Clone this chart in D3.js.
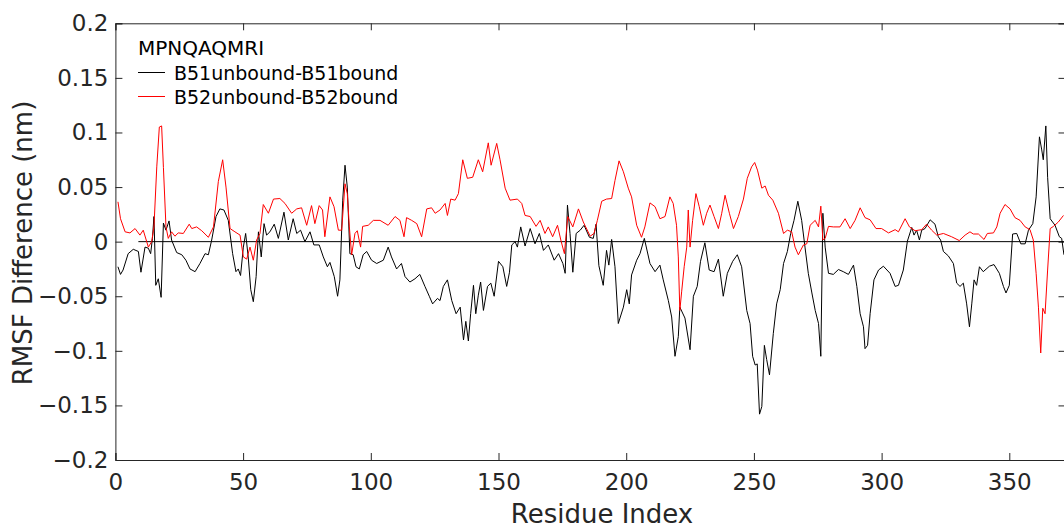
<!DOCTYPE html>
<html>
<head>
<meta charset="utf-8">
<script src="https://cdn.jsdelivr.net/npm/d3@7"></script>
<style>
  body { margin: 0; background: #fff; }
  svg { display: block; font-family: 'DejaVu Sans', sans-serif; }
</style>
</head>
<body>
<div id="chart"></div>
<script>
/// data: [residue, RMSF difference (nm)]
const b51 = [[1,-0.023],[2,-0.030],[3,-0.026],[5,-0.011],[7,-0.007],[9,-0.009],[10,-0.028],[11.6,-0.005],[12.9,-0.006],[13.8,-0.011],[14.5,0.003],[15.1,0.023],[15.8,-0.040],[16.8,-0.034],[17.9,-0.051],[18.8,0.017],[19.8,0.0105],[21,0.019],[22,0.0015],[24,-0.010],[26,-0.012],[27.6,-0.017],[29.2,-0.025],[31.2,-0.0275],[33.1,-0.020],[35.1,-0.011],[36.4,-0.012],[37.7,0.0015],[39.4,0.023],[40.9,0.030],[42.5,0.029],[44.2,0.0195],[45.9,-0.011],[47.2,-0.0275],[48.1,-0.025],[49,-0.031],[50.1,-0.005],[51,0.0075],[52,-0.014],[53,-0.044],[54,-0.055],[55.1,-0.032],[56,0.009],[57.1,-0.014],[58.2,0.0165],[59.2,0.006],[60.5,0.009],[62.2,0.016],[63.8,0.003],[66,0.027],[67.7,0.0015],[69.6,0.021],[71,0.0075],[72.5,0.0105],[74.2,0],[76.2,0.009],[77.7,-0.003],[79.8,-0.003],[81.4,-0.014],[83,-0.023],[84,-0.019],[85.7,-0.032],[87,-0.050],[87.9,-0.035],[89,0.038],[89.9,0.070],[90.8,0.050],[91.8,-0.011],[93.1,-0.012],[94.2,-0.023],[95.5,-0.025],[97,-0.012],[98.4,-0.009],[100.3,-0.017],[102.3,-0.020],[104.9,-0.017],[106.8,-0.005],[108.1,-0.014],[110.1,-0.025],[112,-0.020],[113.4,-0.032],[115.3,-0.037],[117.3,-0.034],[119.2,-0.030],[121.2,-0.041],[122.9,-0.050],[124.2,-0.057],[126.1,-0.052],[127.1,-0.054],[128.4,-0.041],[130,-0.035],[131.7,-0.054],[133.4,-0.066],[135,-0.060],[136.3,-0.090],[137.2,-0.073],[138.2,-0.091],[139.1,-0.066],[140.2,-0.040],[141.1,-0.066],[142.1,-0.049],[143,-0.037],[144.1,-0.063],[145.7,-0.041],[147,-0.038],[148.3,-0.050],[150,-0.018],[151.7,-0.023],[153.2,-0.041],[154.3,-0.028],[155.2,-0.003],[156.5,0],[157.4,-0.005],[158.7,0.0135],[160.4,-0.004],[162.4,0.012],[164.3,-0.002],[166,0.0075],[167.6,-0.008],[169.5,-0.003],[171.8,-0.017],[173.5,-0.011],[175.2,-0.020],[176.1,-0.029],[177,0.0335],[178,0.0075],[179.1,-0.028],[180.4,0.0075],[182,0.0105],[183.5,0.015],[185.6,0.004],[187.1,0.003],[188.2,0.016],[189.3,-0.022],[191,-0.040],[192.3,-0.008],[193.2,-0.0215],[194.3,0.002],[195.6,-0.023],[196.9,-0.075],[198.9,-0.060],[200.2,-0.044],[201.2,-0.057],[202.1,-0.0305],[204.1,-0.017],[205.4,-0.011],[207.1,0.003],[209.3,-0.020],[211.3,-0.0275],[213.2,-0.0215],[214.5,-0.035],[216.5,-0.054],[217.8,-0.069],[219.1,-0.105],[220.4,-0.087],[221,-0.060],[223,-0.070],[225,-0.099],[226.3,-0.050],[227.8,-0.041],[229.1,-0.018],[230.8,-0.001],[232.5,-0.026],[234.4,-0.0275],[236.1,-0.016],[238,-0.050],[239.6,-0.029],[241.7,-0.018],[243.5,-0.012],[245.2,-0.023],[247.2,-0.063],[248.5,-0.075],[249.5,-0.105],[250.5,-0.113],[251.3,-0.112],[252.2,-0.158],[253.1,-0.151],[254.1,-0.095],[255,-0.108],[256.1,-0.122],[257.6,-0.084],[258.9,-0.057],[260.3,-0.044],[261.6,-0.020],[263.1,-0.009],[264.4,0.0075],[265.7,0.0195],[267.2,0.037],[268.7,0.0195],[270,-0.005],[271.3,-0.029],[272.7,-0.047],[274,-0.063],[275.3,-0.075],[276.2,-0.105],[277,0.026],[277.9,-0.005],[279.2,-0.029],[281.1,-0.030],[283.1,-0.0255],[285,-0.0275],[287,-0.030],[289,-0.0215],[290.3,-0.041],[291.6,-0.066],[292.9,-0.078],[293.5,-0.098],[294.5,-0.095],[295.5,-0.066],[297,-0.035],[298.8,-0.026],[300.7,-0.0225],[303.3,-0.029],[305.3,-0.041],[306.6,-0.040],[308.5,-0.026],[310.1,0.0005],[311.8,0.013],[312.7,0.006],[313.7,0.0105],[314.8,0.0015],[315.7,0.0105],[317,0.012],[319,0.020],[320.9,0.016],[322.2,0.0045],[323.1,0.0015],[324.2,-0.009],[326.1,-0.013],[328.1,-0.020],[329.4,-0.038],[330.7,-0.041],[332,-0.038],[333.3,-0.057],[334.4,-0.078],[335.3,-0.057],[336.2,-0.035],[337.2,-0.040],[338.3,-0.023],[339.8,-0.0275],[342.2,-0.0225],[344,-0.021],[346.1,-0.029],[347.7,-0.041],[348.7,-0.047],[350,-0.040],[351.3,0.007],[352.9,0.0075],[354.5,-0.002],[356.2,-0.002],[357.5,0.0105],[359.2,0.0165],[360.5,0.041],[361.8,0.096],[362.7,0.084],[363.3,0.075],[364.3,0.106],[365,0.059],[366,0.021],[367.9,0.015],[369.6,0.0045],[370.5,0.003],[371.4,-0.012]];

const b52 = [[1,0.0365],[2,0.021],[3.8,0.009],[5.7,0.008],[7.7,0.012],[9.6,0.006],[10.9,0.0105],[12.9,-0.005],[14.2,0],[15.1,0.0135],[16.2,0.0685],[17.2,0.105],[18.1,0.106],[18.8,0.068],[19.8,0.0135],[20.7,0.003],[22,0.009],[23.3,0.005],[24.6,0.008],[26.6,0.0075],[28.9,0.016],[29.9,0.012],[31.8,0.0135],[33.8,0.010],[36.4,0.004],[38.4,0.0135],[40.3,0.055],[42,0.075],[43.3,0.050],[44.9,0.012],[46.8,0.009],[48.8,0.006],[50.1,-0.014],[51.4,-0.016],[52.7,-0.005],[54,-0.017],[55.3,0.0015],[56.6,0.0075],[57.9,0.034],[59.9,0.026],[61.9,0.039],[64.4,0.0395],[66.4,0.035],[69,0.026],[71,0.030],[72.9,0.031],[74.9,0.015],[76.8,0.033],[78.1,0.0165],[79.8,0.033],[81.1,0.029],[82,0.0045],[84,0.041],[85.6,0.032],[87.3,0.0105],[88.6,0.0105],[89.9,0.053],[90.8,0.044],[91.6,0.0135],[92.5,-0.012],[93.8,0.0075],[94.7,0.010],[96,-0.005],[96.8,0.014],[99,0.015],[101,0.0195],[103.6,0.0195],[106.8,0.015],[109.5,0.023],[111.4,0.0195],[113,0.0045],[114,0.022],[116,0.0195],[118,0.0165],[119.9,0.0045],[121.9,0.030],[123.8,0.031],[125.2,0.026],[127.1,0.029],[129.1,0.035],[130,0.024],[131.3,0.039],[133,0.038],[134.3,0.044],[136,0.075],[137.8,0.058],[139.9,0.059],[142.1,0.075],[143.8,0.064],[146,0.0905],[147.1,0.070],[149.3,0.090],[150.6,0.075],[152.6,0.049],[154.5,0.038],[157.4,0.039],[159.1,0.035],[160.4,0.024],[162.4,0.023],[164.7,0.014],[166.3,0.0195],[168.2,0.0075],[169.5,0.0135],[171.2,0.0045],[173.1,0.015],[174.4,0.0015],[175.8,-0.011],[177.1,0.023],[179.1,0.0135],[181.3,0.030],[183.2,0.018],[185.9,0.005],[187.4,0.0075],[188.7,0.0195],[190.4,0.037],[192.3,0.039],[194.3,0.0395],[195.6,0.056],[197.2,0.074],[198.9,0.064],[200.8,0.049],[202.1,0.041],[204.1,0.015],[206,0.004],[207.3,0.0135],[209.3,0.0355],[211.3,0.032],[213.2,0.021],[215.2,0.023],[217.1,0.041],[218.4,0.035],[219.7,0.015],[220.4,-0.014],[221,-0.063],[221.7,-0.046],[222.7,-0.023],[223.7,-0.005],[224.3,0.029],[225,-0.005],[226,0.0195],[227.3,0.044],[228.6,0.032],[230.2,0.015],[231.5,0.026],[232.8,0.0335],[234.4,0.023],[236.1,0.012],[237.4,0.026],[238.7,0.0425],[240.4,0.026],[242,0.012],[243.9,0.023],[245.9,0.039],[247.4,0.058],[249.1,0.0685],[250.3,0.0725],[251.4,0.0655],[253.1,0.049],[254.4,0.051],[255.7,0.0425],[257.4,0.038],[259.6,0.026],[261.6,0.0075],[263.1,0.0105],[264.8,0.009],[266.1,-0.005],[267.4,-0.012],[269.4,-0.003],[270.7,-0.002],[272,0.015],[274,0.0195],[275.3,0.0135],[276.2,0.0325],[277,0.0015],[277.9,0.003],[279.2,0.014],[281.1,0.0135],[283.7,0.0135],[285.7,0.021],[287.7,0.012],[289.6,0.0195],[291.6,0.031],[293.5,0.022],[295.5,0.020],[297.8,0.012],[300,0.012],[302.7,0.008],[305.3,0.011],[306.6,0.009],[309.2,0.021],[310.9,0.0135],[313.1,0.010],[315.7,0.011],[317.6,0.016],[319.6,0.0105],[321.6,0.006],[324.2,0.0075],[327.4,0.0045],[330.4,0.001],[332.7,0.006],[334.6,0.009],[335.9,0.007],[337.9,0.007],[340.1,0.002],[341.4,0.0075],[343.8,0.008],[345.1,0.0135],[346.4,0.026],[348.3,0.034],[350.3,0.030],[352.2,0.022],[354.2,0.0195],[356.2,0.0135],[358.1,0.011],[359.4,0.0015],[360.5,-0.029],[361.4,-0.060],[362.3,-0.102],[363.1,-0.061],[364,-0.066],[365,-0.026],[366,0.012],[367.3,0.014],[369.2,0.018],[371.2,0.024]];

const xTicks = [0, 50, 100, 150, 200, 250, 300, 350];
const yTicks = [-0.2, -0.15, -0.1, -0.05, 0, 0.05, 0.1, 0.15, 0.2];
const legendTitle = 'MPNQAQMRI';
const seriesNames = ['B51unbound-B51bound', 'B52unbound-B52bound'];
const seriesColors = ['#000000', '#ff0000'];

let width = 1064;
let height = 529;

let svg = d3.select('#chart').append('svg')
            .attr('width', width).attr('height', height);

let x = d3.scaleLinear().domain([0, 372]).range([115.4, 1065.5]);
let y = d3.scaleLinear().domain([-0.2, 0.2]).range([460, 23.3]);

let tickFmt = function(d) { return d3.format('~g')(d); };

/// bottom axis, ticks pointing inward
svg.append('g')
  .attr('transform', 'translate(0,' + y(-0.2) + ')')
  .call(d3.axisBottom(x).tickValues(xTicks).tickSize(-7).tickPadding(14).tickFormat(tickFmt));

/// top axis, ticks only
svg.append('g')
  .attr('transform', 'translate(0,' + y(0.2) + ')')
  .call(d3.axisTop(x).tickValues(xTicks).tickSize(-7).tickFormat(''));

/// left axis
svg.append('g')
  .attr('transform', 'translate(' + x(0) + ',0)')
  .call(d3.axisLeft(y).tickValues(yTicks).tickSize(-7).tickPadding(7).tickFormat(tickFmt));

/// right axis (falls just off the picture)
svg.append('g')
  .attr('transform', 'translate(' + x(372) + ',0)')
  .call(d3.axisRight(y).tickValues(yTicks).tickSize(-7).tickFormat(''));

svg.selectAll('.domain').attr('stroke', '#262626');
svg.selectAll('.tick line').attr('stroke', '#262626');
svg.selectAll('.tick text')
  .attr('fill', '#262626')
  .style('font-size', '23px')
  .style('font-family', "'DejaVu Sans', sans-serif");

/// zero reference line
svg.append('line')
  .attr('x1', x(9)).attr('x2', x(372))
  .attr('y1', y(0)).attr('y2', y(0))
  .attr('stroke', '#000').attr('stroke-width', 1);

/// the two series
let line = d3.line()
  .x(function(d) { return x(d[0]); })
  .y(function(d) { return y(d[1]); });

[b51, b52].forEach(function(series, i) {
  svg.append('path')
    .datum(series)
    .attr('fill', 'none')
    .attr('stroke', seriesColors[i])
    .attr('stroke-width', 1)
    .attr('d', line);
});

/// axis titles
svg.append('text')
  .attr('x', 602).attr('y', 523)
  .attr('text-anchor', 'middle')
  .attr('fill', '#262626')
  .style('font-size', '26px')
  .text('Residue Index');

svg.append('text')
  .attr('transform', 'translate(32,243) rotate(-90)')
  .attr('text-anchor', 'middle')
  .attr('fill', '#262626')
  .style('font-size', '26px')
  .text('RMSF Difference (nm)');

/// legend
let legend = svg.append('g').style('font-size', '19px');

legend.append('text')
  .attr('x', 138).attr('y', 55)
  .attr('fill', '#000')
  .style('font-size', '20px')
  .text(legendTitle);

seriesNames.forEach(function(name, i) {
  let ly = 72.5 + i * 24;
  legend.append('line')
    .attr('x1', 138).attr('x2', 165)
    .attr('y1', ly).attr('y2', ly)
    .attr('stroke', seriesColors[i]).attr('stroke-width', 1);
  legend.append('text')
    .attr('x', 174).attr('y', ly + 7.5)
    .attr('fill', '#000')
    .text(name);
});
</script>
</body>
</html>
